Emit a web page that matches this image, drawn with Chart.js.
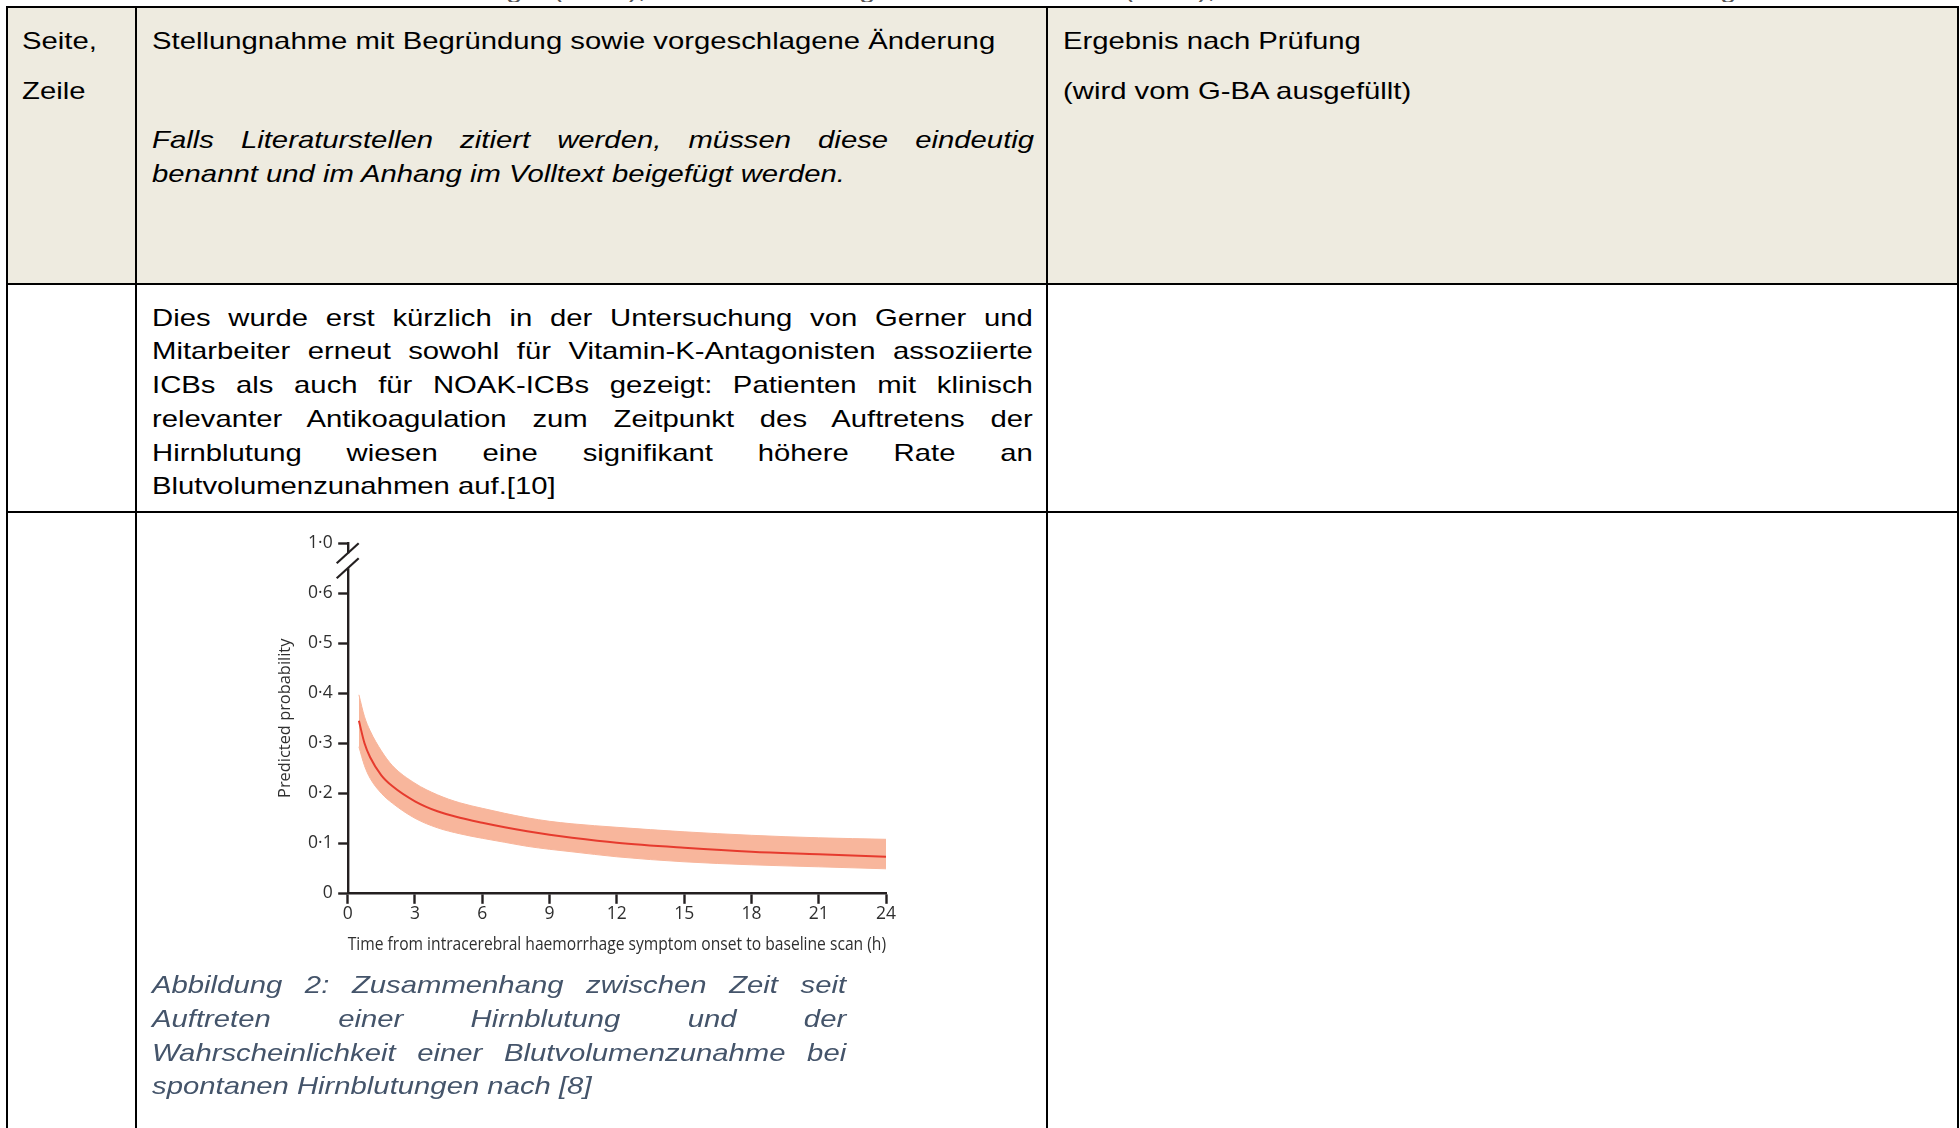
<!DOCTYPE html>
<html lang="de">
<head>
<meta charset="utf-8">
<title>Abbildung 2</title>
<script src="https://cdn.jsdelivr.net/npm/chart.js@4.4.0/dist/chart.umd.min.js"></script>
<style>
  html, body { margin: 0; padding: 0; background: #fff; }
  body { width: 1960px; height: 1128px; position: relative; overflow: hidden;
         font-family: "Liberation Sans", Arial, sans-serif; }
  .ln { position: absolute; background: #000; }
  .t { position: absolute; font-size: 24px; line-height: 34px; white-space: nowrap;
       transform: scaleX(1.22); transform-origin: 0 0; color: #000; }
  .j div { text-align: justify; text-align-last: justify; white-space: normal; }
  .j div.last { text-align-last: left; }
  .it { font-style: italic; }
  .cap { color: #44546a; }
  #chartBox { position: absolute; left: 200px; top: 520px; width: 720px; height: 460px; }
</style>
</head>
<body>

<!-- abgeschnittene Kopfzeile (nur Unterkanten sichtbar) -->
<div class="t" style="left:60px; top:-22px; width:1395px; height:24px; line-height:24px; overflow:hidden; color:#555;">Deutsche Gesellschaft für Neurologie (DGN), Deutsche Schlaganfall-Gesellschaft (DSG), Deutsche Gesellschaft für Neurochirurgie (DGNC)</div>

<!-- Tabelle -->
<div style="position:absolute; left:8px; top:8px; width:1949px; height:275px; background:#eeebe0;"></div>
<div class="ln" style="left:6px; top:6px; width:1953px; height:2px;"></div>
<div class="ln" style="left:6px; top:283px; width:1953px; height:2px;"></div>
<div class="ln" style="left:6px; top:511px; width:1953px; height:2px;"></div>
<div class="ln" style="left:6px; top:6px; width:2px; height:1122px;"></div>
<div class="ln" style="left:135px; top:6px; width:2px; height:1122px;"></div>
<div class="ln" style="left:1046px; top:6px; width:2px; height:1122px;"></div>
<div class="ln" style="left:1957px; top:6px; width:2px; height:1122px;"></div>

<!-- Kopfzeile der Tabelle -->
<div class="t" style="left:22px; top:23.7px;">Seite,</div>
<div class="t" style="left:22px; top:73.7px;">Zeile</div>
<div class="t" style="left:151.7px; top:23.7px;">Stellungnahme mit Begründung sowie vorgeschlagene Änderung</div>
<div class="t j it" style="left:152px; top:122.7px; width:723px;">
  <div>Falls Literaturstellen zitiert werden, müssen diese eindeutig</div>
  <div class="last">benannt und im Anhang im Volltext beigefügt werden.</div>
</div>
<div class="t" style="left:1063px; top:24px;">Ergebnis nach Prüfung</div>
<div class="t" style="left:1063px; top:74px;">(wird vom G-BA ausgefüllt)</div>

<!-- Fließtext -->
<div class="t j" style="left:151.7px; top:300.7px; width:722px; line-height:33.75px;">
  <div>Dies wurde erst kürzlich in der Untersuchung von Gerner und</div>
  <div>Mitarbeiter erneut sowohl für Vitamin-K-Antagonisten assoziierte</div>
  <div>ICBs als auch für NOAK-ICBs gezeigt: Patienten mit klinisch</div>
  <div>relevanter Antikoagulation zum Zeitpunkt des Auftretens der</div>
  <div>Hirnblutung wiesen eine signifikant höhere Rate an</div>
  <div class="last">Blutvolumenzunahmen auf.[10]</div>
</div>

<!-- Diagramm -->
<div id="chartBox"><canvas id="chartGrowth"></canvas></div>

<!-- Bildunterschrift -->
<div class="t j it cap" style="left:151.7px; top:968.2px; width:569px; line-height:33.7px;">
  <div>Abbildung 2: Zusammenhang zwischen Zeit seit</div>
  <div>Auftreten einer Hirnblutung und der</div>
  <div>Wahrscheinlichkeit einer Blutvolumenzunahme bei</div>
  <div class="last">spontanen Hirnblutungen nach [8]</div>
</div>

<script>
// Werte
const hours   = [0.5, 0.75, 1, 1.5, 2, 3, 4, 5, 6, 7, 8, 9, 10, 12, 15, 18, 21, 24];
const fitProb = [0.345, 0.300, 0.272, 0.236, 0.214, 0.184, 0.164, 0.151, 0.141, 0.132, 0.124, 0.117, 0.111, 0.101, 0.091, 0.083, 0.078, 0.073];
const upperCI = [0.397, 0.353, 0.325, 0.285, 0.255, 0.220, 0.197, 0.181, 0.170, 0.160, 0.151, 0.144, 0.139, 0.132, 0.123, 0.116, 0.111, 0.108];
const lowerCI = [0.293, 0.255, 0.230, 0.200, 0.180, 0.150, 0.131, 0.119, 0.110, 0.102, 0.094, 0.088, 0.083, 0.073, 0.063, 0.057, 0.053, 0.049];

const xTickValues = [0, 3, 6, 9, 12, 15, 18, 21, 24];
// unterbrochene Achse: "1·0" sitzt einen Schritt über 0·6
const yTickLabels = ["0", "0\u00b71", "0\u00b72", "0\u00b73", "0\u00b74", "0\u00b75", "0\u00b76", "1\u00b70"];

const xTitle = "Time from intracerebral haemorrhage symptom onset to baseline scan (h)";
const yTitle = "Predicted probability";

const axisColor = "#231f20";
const textColor = "#2f2f2f";
const bandColor = "rgba(248,182,156,1)";
const chartFont = "'Open Sans', 'Noto Sans', sans-serif";

const toPoints = (arr) => hours.map((h, i) => ({ x: h, y: arr[i] }));

// Achsenbruch zwischen 0·6 und 1·0
const axisBreak = {
  id: "axisBreak",
  afterDraw(chart) {
    const ctx = chart.ctx;
    const y = chart.scales.y;
    const x = chart.chartArea.left;
    const yA = y.getPixelForValue(0.68);
    const yB = y.getPixelForValue(0.65);
    ctx.save();
    ctx.fillStyle = "#fff";
    ctx.fillRect(x - 3, yA, 6, yB - yA);
    ctx.strokeStyle = axisColor;
    ctx.lineWidth = 2.2;
    [yA, yB].forEach((yy) => {
      ctx.beginPath();
      ctx.moveTo(x - 11, yy + 10);
      ctx.lineTo(x + 11, yy - 10);
      ctx.stroke();
    });
    ctx.restore();
  }
};

document.addEventListener("DOMContentLoaded", function () {
  const ctx = document.getElementById("chartGrowth").getContext("2d");
  new Chart(ctx, {
    type: "line",
    data: {
      datasets: [
        {
          label: "upper",
          data: toPoints(upperCI),
          borderColor: bandColor,
          borderWidth: 1,
          pointRadius: 0,
          fill: false,
          order: 2,
          cubicInterpolationMode: "monotone"
        },
        {
          label: "lower",
          data: toPoints(lowerCI),
          borderColor: bandColor,
          borderWidth: 1,
          pointRadius: 0,
          fill: "-1",
          backgroundColor: bandColor,
          order: 1,
          cubicInterpolationMode: "monotone"
        },
        {
          label: "fit",
          data: toPoints(fitProb),
          borderColor: "#e63b2e",
          borderWidth: 2,
          pointRadius: 0,
          fill: false,
          order: 0,
          cubicInterpolationMode: "monotone"
        }
      ]
    },
    options: {
      responsive: true,
      maintainAspectRatio: false,
      animation: false,
      events: [],
      layout: {
        autoPadding: false,
        padding: { left: 0, right: 34, top: 23.3, bottom: 6.7 }
      },
      plugins: {
        legend: { display: false },
        tooltip: { enabled: false }
      },
      scales: {
        x: {
          type: "linear",
          min: 0,
          max: 24,
          afterBuildTicks: (s) => { s.ticks = xTickValues.map((v) => ({ value: v })); },
          afterFit: (s) => { s.height = 80; },
          grid: { drawOnChartArea: false, drawTicks: true, tickLength: 10.5, tickWidth: 2.4, tickColor: axisColor },
          border: { display: true, color: axisColor, width: 2.4 },
          ticks: { color: textColor, font: { family: chartFont, size: 17.5 }, padding: 0, maxRotation: 0, autoSkip: false },
          title: { display: true, text: xTitle, color: textColor, font: { family: chartFont, size: 17.4 }, padding: { top: 0, bottom: 17.9 } }
        },
        y: {
          type: "linear",
          min: 0,
          max: 0.7,
          afterBuildTicks: (s) => { s.ticks = yTickLabels.map((l, i) => ({ value: i / 10 })); },
          afterFit: (s) => { s.width = 147.7; },
          grid: { drawOnChartArea: false, drawTicks: true, tickLength: 9.5, tickWidth: 2.4, tickColor: axisColor },
          border: { display: true, color: axisColor, width: 2.4 },
          ticks: {
            color: textColor,
            font: { family: chartFont, size: 17.5 },
            padding: 5.5,
            callback: (v, i) => yTickLabels[i]
          },
          title: { display: true, text: yTitle, color: textColor, font: { family: chartFont, size: 16.4 }, padding: { top: 75.7, bottom: 0 } }
        }
      }
    },
    plugins: [axisBreak]
  });
});
</script>
</body>
</html>
